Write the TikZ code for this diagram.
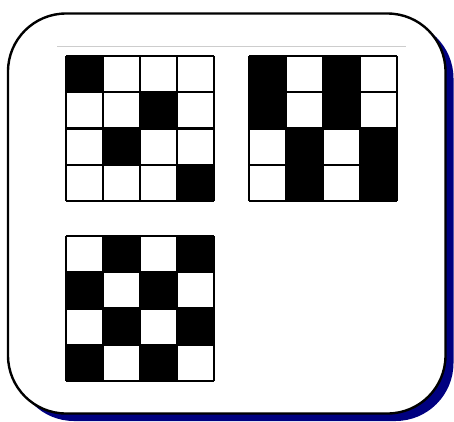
\documentclass[tikz,border=0pt]{standalone}
\definecolor{shadownavy}{RGB}{0,0,128}
\definecolor{rulegray}{RGB}{205,205,205}
\tikzset{
  panel/.style={line width=2.4pt, draw=black, fill=white, rounded corners=58pt},
  panelshadow/.style={fill=shadownavy, rounded corners=58pt},
  gridline/.style={line width=2.2pt, draw=black},
  blackcell/.style={fill=black},
}
\newcommand{\checkgrid}[3]{%
  % #1 = x0, #2 = y0, #3 = list of black cells col/row
  \begin{scope}[shift={(#1,#2)}]
    \foreach \c/\r in {#3} {
      \fill[blackcell] (\c*37,\r*36.25) rectangle ++(37,36.25);
    }
    \foreach \i in {0,...,4} {
      \draw[gridline] (\i*37,0) -- (\i*37,145);
      \draw[gridline] (0,\i*36.25) -- (148,\i*36.25);
    }
  \end{scope}
}
\begin{document}
\begin{tikzpicture}[x=1pt,y=-1pt]
  \useasboundingbox (0,0) rectangle (454,421);
  \fill[panelshadow] (16,20.5) rectangle (453.5,421);
  \draw[panel] (8,13.5) rectangle (445.5,413.5);
  \draw[rulegray, line width=0.8pt] (57,46) -- (406,46);
  \checkgrid{66}{56}{0/0,2/1,1/2,3/3}
  \checkgrid{249}{56}{0/0,2/0,0/1,2/1,1/2,3/2,1/3,3/3}
  \checkgrid{66}{236}{1/0,3/0,0/1,2/1,1/2,3/2,0/3,2/3}
\end{tikzpicture}
\end{document}
